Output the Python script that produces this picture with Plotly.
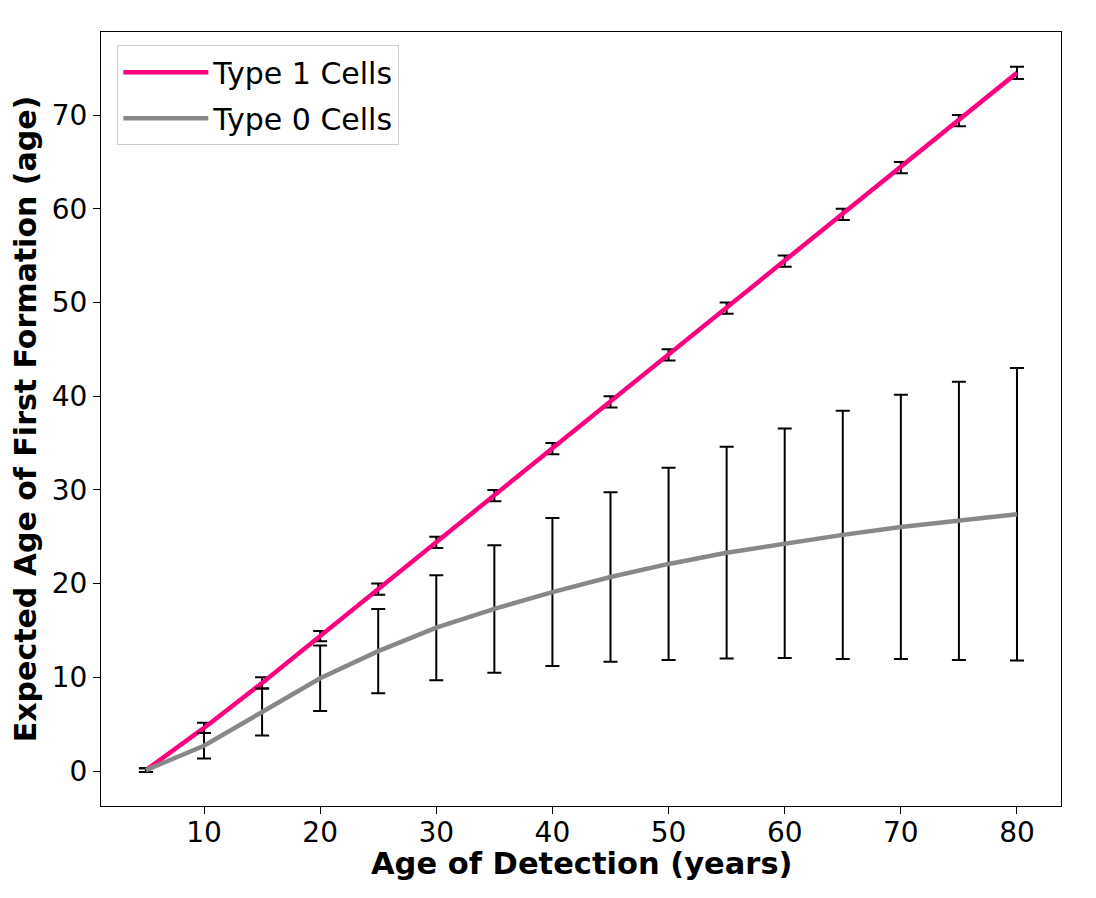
import plotly.graph_objects as go

ages = [5, 10, 15, 20, 25, 30, 35, 40, 45, 50, 55, 60, 65, 70, 75, 80]

type1_mean = [0.1, 4.6, 9.4, 14.4, 19.4, 24.4, 29.4, 34.4, 39.4, 44.4, 49.4, 54.4, 59.4, 64.4, 69.4, 74.5]
type1_err = [0.2, 0.55, 0.6, 0.55, 0.6, 0.6, 0.6, 0.6, 0.6, 0.6, 0.6, 0.6, 0.6, 0.6, 0.6, 0.65]

type0_mean = [0.1, 2.7, 6.3, 9.9, 12.8, 15.3, 17.3, 19.1, 20.7, 22.1, 23.3, 24.3, 25.2, 26.05, 26.7, 27.4]
type0_err = [0.2, 1.35, 2.5, 3.5, 4.5, 5.6, 6.8, 7.9, 9.05, 10.25, 11.3, 12.25, 13.25, 14.1, 14.85, 15.6]

fig = go.Figure()

fig.add_trace(go.Scatter(x=ages, y=type1_mean, mode='lines', name='Type 1 Cells',
                         legendgroup='t1',
                         line=dict(color='#ff0080', width=4.5),
                         error_y=dict(type='data', array=type1_err, visible=True,
                                      color='black', thickness=2, width=7)))
fig.add_trace(go.Scatter(x=ages, y=type0_mean, mode='lines', name='Type 0 Cells',
                         legendgroup='t0',
                         line=dict(color='#888888', width=4.5),
                         error_y=dict(type='data', array=type0_err, visible=True,
                                      color='black', thickness=2, width=7)))

axis_style = dict(showline=True, linecolor='black', linewidth=1.2, mirror=True,
                  ticks='outside', ticklen=7, tickwidth=1.2, tickcolor='black',
                  showgrid=False, zeroline=False,
                  tickfont=dict(size=28, color='black'))

fig.update_xaxes(range=[1.13, 83.79], tickvals=[10, 20, 30, 40, 50, 60, 70, 80],
                 ticklabelstandoff=-6, **axis_style)
fig.update_yaxes(range=[-3.73, 78.86], tickvals=[0, 10, 20, 30, 40, 50, 60, 70],
                 title_text='<b>Expected Age of First Formation (age)</b>',
                 title_font=dict(size=30, color='black'), title_standoff=6,
                 **axis_style)

# x title as an annotation so it can sit closer to the tick labels
fig.add_annotation(text='<b>Age of Detection (years)</b>', xref='paper', yref='paper',
                   x=0.5, y=0, yshift=-57, yanchor='middle', showarrow=False,
                   font=dict(size=30.5, color='black'))

# page body adds 8px margin, so shrink the figure to keep the plot area aligned
fig.update_layout(
    width=1088, height=890,
    margin=dict(l=93, r=35, t=24, b=92),
    plot_bgcolor='white', paper_bgcolor='white',
    font=dict(family='DejaVu Sans', color='black'),
    legend=dict(x=0.017, y=0.983, xanchor='left', yanchor='top',
                bgcolor='rgba(255,255,255,0.8)', bordercolor='#cccccc', borderwidth=1,
                font=dict(size=30, color='black'), itemwidth=85, tracegroupgap=4),
)

fig.write_html("out.html")
